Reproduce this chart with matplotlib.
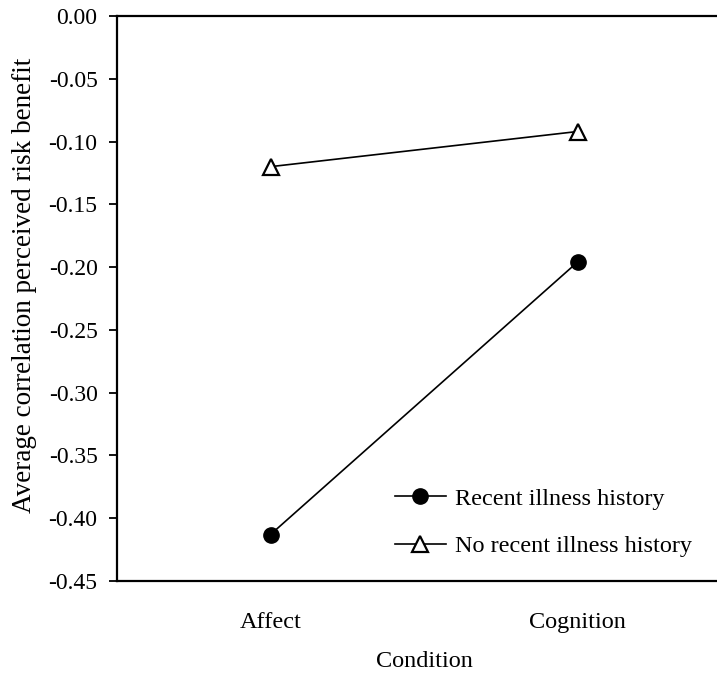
import matplotlib
matplotlib.use("Agg")
import matplotlib.pyplot as plt
import numpy as np

plt.rcParams['font.family'] = ['Liberation Serif', 'DejaVu Serif']

conditions = ["Affect", "Cognition"]
recent_illness = [-0.413, -0.196]
no_recent_illness = [-0.120, -0.092]
yticks = np.arange(-0.45, 0.001, 0.05)

fig = plt.figure(figsize=(7.17, 6.73), dpi=100)
ax = fig.add_axes([117/717, 92/673, 614/717, 565/673])

x = np.array([0.5, 1.5])
ax.plot(x, recent_illness, color='black', lw=1.2, marker='o', ms=11,
        label="Recent illness history")
ax.plot(x, no_recent_illness, color='black', lw=1.2, marker='^', ms=12,
        mfc='white', mew=1.6, label="No recent illness history")

ax.set_xlim(0, 2)
ax.set_ylim(-0.45, 0.0)
ax.set_xticks(x)
ax.set_xticklabels(conditions)
ax.set_yticks(yticks)
ax.set_yticklabels([f"{abs(v):.2f}" if abs(v) < 1e-9 else f"{v:.2f}" for v in yticks])
ax.tick_params(axis='y', direction='out', length=6, width=1.3, pad=8, labelsize=17)
ax.tick_params(axis='x', length=0, pad=22, labelsize=17.5)
ax.spines['right'].set_visible(False)
for s in ['left', 'top', 'bottom']:
    ax.spines[s].set_linewidth(1.6)

ax.set_xlabel("Condition", fontsize=17.5, labelpad=13)
fig.text(25/717, 1 - 513/673, "Average correlation perceived risk benefit",
         rotation=90, ha='center', va='bottom', fontsize=19.5)

ax.legend(loc='upper left', bbox_to_anchor=(385/717, 1 - 478/673),
          bbox_transform=fig.transFigure, frameon=False, fontsize=17.5,
          handlelength=2.1, handletextpad=0.37, labelspacing=1.04,
          borderaxespad=0)

fig.savefig("out.png", dpi=100)
